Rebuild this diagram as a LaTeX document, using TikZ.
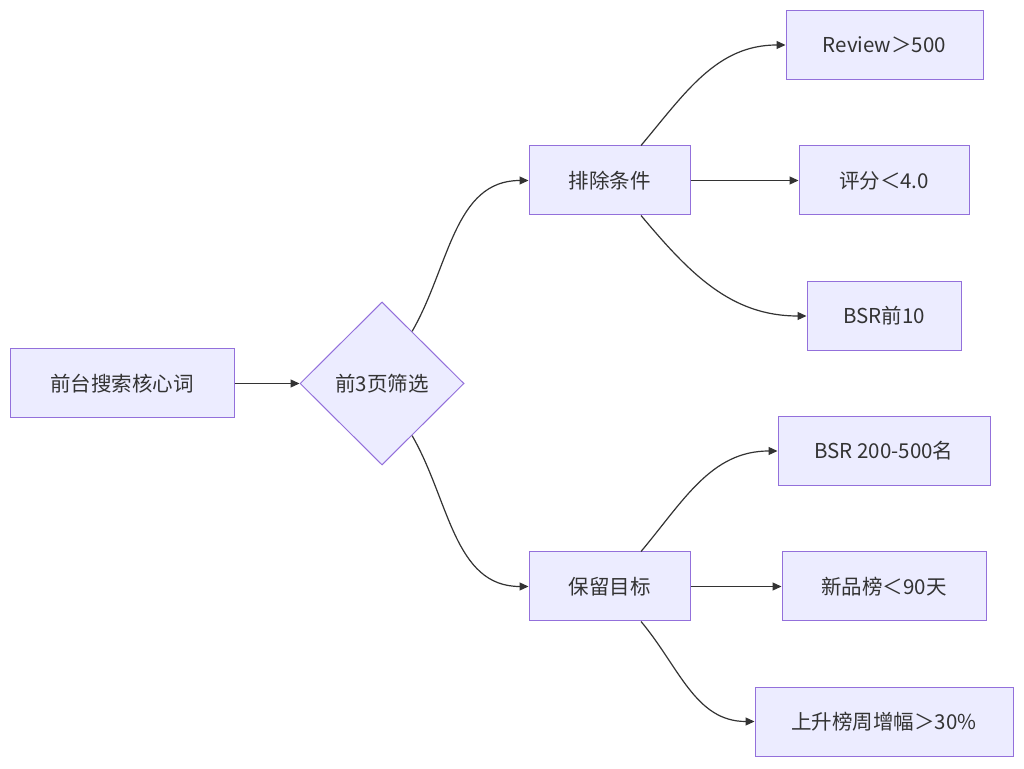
\documentclass[tikz,border=0pt]{standalone}
\usepackage{fontspec}
\setmainfont{Noto Sans CJK SC}
\usetikzlibrary{shapes.geometric,arrows.meta}

\definecolor{boxfill}{HTML}{ECECFF}
\definecolor{boxline}{HTML}{9370DB}
\definecolor{ink}{HTML}{333333}

\tikzset{
  box/.style={rectangle, draw=boxline, fill=boxfill, line width=1pt,
    minimum height=69pt, text=ink, inner sep=0pt},
  decide/.style={diamond, draw=boxline, fill=boxfill, line width=1pt,
    minimum width=164pt, minimum height=163pt, inner sep=0pt, text=ink},
  link/.style={draw=ink, line width=1.2pt, -{Triangle[length=9pt,width=8pt]}}
}

\begin{document}
\begin{tikzpicture}[x=1pt, y=1pt, font=\fontsize{20.5}{24}\selectfont]
  \fill[white] (0,0) rectangle (1024,768);
  \useasboundingbox (0,0) rectangle (1024,768);

  \node[box, minimum width=224pt] (kw) at (122,384.5) {前台搜索核心词};
  \node[decide] (top3) at (382,384.5) {前3页筛选};

  \node[box, minimum width=161pt] (excl) at (609.5,587.5) {排除条件};
  \node[box, minimum width=161pt] (keep) at (609.5,181.5) {保留目标};

  \node[box, minimum width=197pt] (rev) at (884.5,723) {Review＞500};
  \node[box, minimum width=170pt] (rate) at (884,587.5) {评分＜4.0};
  \node[box, minimum width=154pt] (bsrtop) at (884,452) {BSR前10};

  \node[box, minimum width=212pt] (bsrmid) at (884,317) {BSR 200-500名};
  \node[box, minimum width=204pt] (newrel) at (884,181.5) {新品榜＜90天};
  \node[box, minimum width=258pt] (rising) at (884,46.5) {上升榜周增幅＞30\%};

  \draw[link] (kw) -- (top3);
  \draw[link] (top3.60) to[out=60, in=180] (excl.west);
  \draw[link] (top3.-60) to[out=-60, in=180] (keep.west);

  % exclusion branch
  \draw[link] (excl.48) to[out=50, in=180] (rev.west);
  \draw[link] (excl) -- (rate);
  \draw[link] (excl.-48) to[out=-50, in=180] (bsrtop.west);

  % keep branch
  \draw[link] (keep.48) to[out=50, in=180] (bsrmid.west);
  \draw[link] (keep) -- (newrel);
  \draw[link] (keep.-48) to[out=-50, in=180] (rising.west);
\end{tikzpicture}
\end{document}
